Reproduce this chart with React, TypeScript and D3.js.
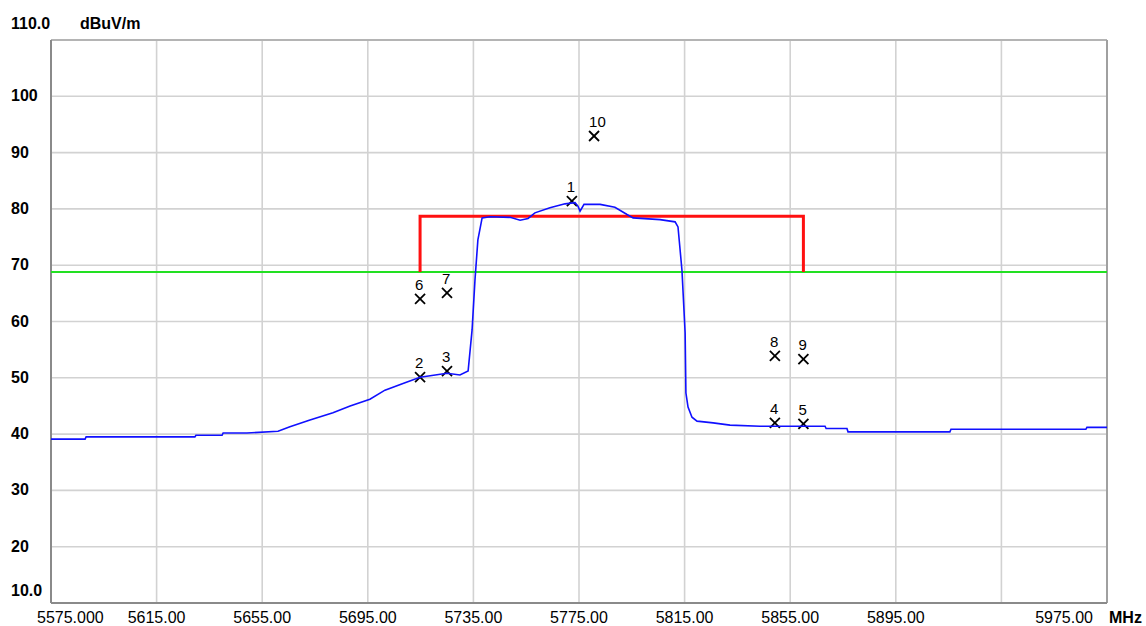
import React from "react";
import * as d3 from "d3";

// ---- data ----
const traceFreq = [
  5575, 5587.9, 5588.3, 5629.5, 5629.9, 5639.8, 5640.2, 5649.2, 5661, 5665.5,
  5673.1, 5681.8, 5688.3, 5695.8, 5701.5, 5709.1, 5714.8, 5725, 5729.9, 5733,
  5734.5, 5735.6, 5736.7, 5738.3, 5741.3, 5748.9, 5752.7, 5755.7, 5758.3, 5764,
  5769.7, 5773.5, 5774.6, 5775.4, 5776.9, 5783, 5788.6, 5793.2, 5795.5, 5805.7,
  5811.4, 5812.5, 5813.3, 5814, 5815.2, 5815.5, 5816.3, 5817.8, 5819.7, 5825.8,
  5832.2, 5843.6, 5868.2, 5868.6, 5876.5, 5876.9, 5915.5, 5915.9, 5967, 5967.4,
  5975,
];
const traceLevel = [
  39.1, 39.1, 39.5, 39.5, 39.8, 39.8, 40.2, 40.2, 40.5, 41.3,
  42.5, 43.8, 45.0, 46.2, 47.8, 49.1, 50.1, 50.8, 50.5, 51.2,
  58.5, 67.4, 74.5, 78.4, 78.6, 78.5, 78.0, 78.3, 79.3, 80.2,
  80.9, 81.1, 80.5, 79.6, 80.8, 80.8, 80.3, 79.0, 78.4, 78.1,
  77.7, 76.8, 72.7, 69.1, 58.0, 47.3, 44.8, 43.0, 42.3, 42.0,
  41.6, 41.4, 41.4, 41.0, 41.0, 40.4, 40.4, 40.85, 40.85, 41.2,
  41.2,
];

const markerIds = ["1", "2", "3", "4", "5", "6", "7", "8", "9", "10"];
const markerFreq = [5772.3, 5714.8, 5725, 5849.2, 5860, 5714.8, 5725, 5849.2, 5860, 5780.7];
const markerLevel = [81.4, 50.1, 51.2, 42.0, 41.8, 64.0, 65.1, 53.9, 53.3, 92.95];

const maskFreq = [5714.8, 5714.8, 5860, 5860];
const maskLevel = [68.8, 78.7, 78.7, 68.8];
const limitLevel = 68.8;

const xTicks = [5575, 5615, 5655, 5695, 5735, 5775, 5815, 5855, 5895, 5935, 5975];
const xTickLabels = ["5575.000", "5615.00", "5655.00", "5695.00", "5735.00", "5775.00", "5815.00", "5855.00", "5895.00", "", "5975.00"];
const yTicks = [10, 20, 30, 40, 50, 60, 70, 80, 90, 100, 110];
const yTickLabels = ["10.0", "20", "30", "40", "50", "60", "70", "80", "90", "100", "110.0"];
const yUnit = "dBuV/m";
const xUnit = "MHz";

export default function App() {
  const W = 1146, H = 626;
  const left = 51, right = 1107, top = 40, bottom = 603;
  const x = d3.scaleLinear().domain([5575, 5975]).range([left, right]);
  const y = d3.scaleLinear().domain([10, 110]).range([bottom, top]);

  const trace = traceFreq.map((f, i) => [f, traceLevel[i]] as [number, number]);
  const traceLine = d3.line<[number, number]>().x(d => x(d[0])).y(d => y(d[1]))(trace) || "";
  const mask = maskFreq.map((f, i) => [f, maskLevel[i]] as [number, number]);
  const maskLine = d3.line<[number, number]>().x(d => x(d[0])).y(d => y(d[1]))(mask) || "";

  const font = "'Liberation Sans', Arial, sans-serif";

  return (
    <svg width={W} height={H} style={{ position: "absolute", left: 0, top: 0, background: "#fff" }} fontFamily={font}>
      <rect x={0} y={0} width={W} height={H} fill="#fff" />
      {/* grid */}
      {xTicks.slice(1, -1).map(t => (
        <line key={"gx" + t} x1={x(t)} x2={x(t)} y1={top} y2={bottom} stroke="#d2d2d2" strokeWidth={1.6} />
      ))}
      {yTicks.slice(1, -1).map(t => (
        <line key={"gy" + t} x1={left} x2={right} y1={y(t)} y2={y(t)} stroke="#d2d2d2" strokeWidth={1.6} />
      ))}
      {/* frame */}
      <line x1={left} x2={right} y1={top} y2={top} stroke="#b4b4b4" strokeWidth={2} />
      <line x1={right} x2={right} y1={top} y2={bottom} stroke="#a0a0a0" strokeWidth={2} />
      <line x1={left} x2={left} y1={top} y2={bottom} stroke="#8a8a8a" strokeWidth={2} />
      <line x1={left} x2={right} y1={bottom} y2={bottom} stroke="#8a8a8a" strokeWidth={2} />

      {/* markers */}
      {markerIds.map((id, i) => {
        const mx = x(markerFreq[i]);
        const my = y(markerLevel[i]);
        return (
          <g key={"m" + id}>
            <line x1={mx - 5} x2={mx + 5} y1={my - 5} y2={my + 5} stroke="#000" strokeWidth={1.8} />
            <line x1={mx - 5} x2={mx + 5} y1={my + 5} y2={my - 5} stroke="#000" strokeWidth={1.8} />
            <text x={mx - 5} y={my - 9} fontSize={15} fill="#000">{id}</text>
          </g>
        );
      })}

      {/* limit lines */}
      <line x1={left} x2={right} y1={y(limitLevel)} y2={y(limitLevel)} stroke="#22e022" strokeWidth={2} />
      <path d={maskLine} fill="none" stroke="#ff1010" strokeWidth={3} />

      {/* trace */}
      <path d={traceLine} fill="none" stroke="#1010ff" strokeWidth={1.6} />

      {/* y labels */}
      {yTicks.map((t, i) => {
        let ty = y(t) + 5;
        if (t === 110) ty = 29;
        if (t === 10) ty = 596;
        return (
          <text key={"yl" + t} x={11} y={ty} fontSize={16} fontWeight="bold" fill="#000">{yTickLabels[i]}</text>
        );
      })}
      <text x={80} y={29} fontSize={16} fontWeight="bold" fill="#000">{yUnit}</text>

      {/* x labels */}
      {xTicks.map((t, i) => {
        const lbl = xTickLabels[i];
        if (!lbl) return null;
        let anchor: "start" | "middle" | "end" = "middle";
        let tx = x(t);
        if (i === 0) { anchor = "start"; tx = x(t) - 14; }
        if (i === xTicks.length - 1) { anchor = "end"; tx = x(t) - 14; }
        return (
          <text key={"xl" + t} x={tx} y={623} fontSize={16} textAnchor={anchor} fill="#000">{lbl}</text>
        );
      })}
      <text x={1109} y={623} fontSize={16} fontWeight="bold" fill="#000">{xUnit}</text>
    </svg>
  );
}
